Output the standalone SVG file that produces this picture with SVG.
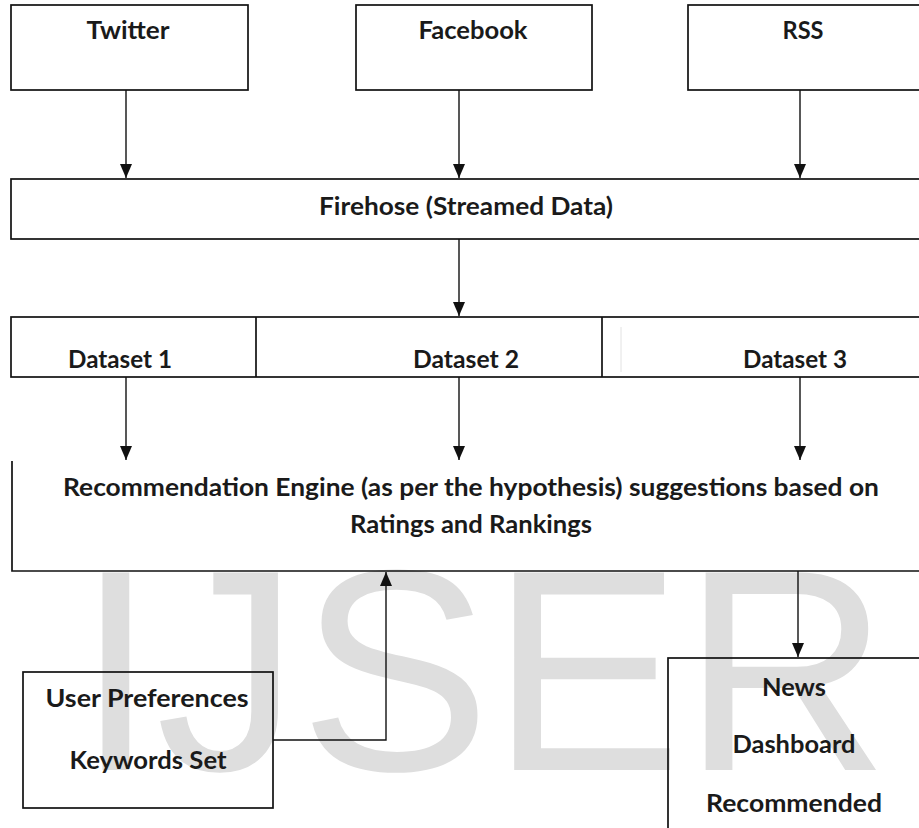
<svg xmlns="http://www.w3.org/2000/svg" width="919" height="828" viewBox="0 0 919 828">
<defs>
<marker id="arr" markerWidth="14" markerHeight="12" refX="14" refY="6" orient="auto" markerUnits="userSpaceOnUse" viewBox="0 0 14 12">
<path d="M0,0 L14,6 L0,12 Z" fill="#111"/>
</marker>
<style>
.box{fill:none;stroke:#111;stroke-width:1.7}
.ln{fill:none;stroke:#111;stroke-width:1.4}
.t{font-family:Lato,"Open Sans","Liberation Sans",sans-serif;font-weight:700;font-size:24px;fill:#1a1a1a;text-anchor:middle}
.wm{font-family:"Liberation Sans",Arial,sans-serif;font-size:287px;fill:#dedede}
</style>
</defs>
<rect width="919" height="828" fill="#fff"/>
<text class="wm" x="76" y="770">IJSER</text>

<g id="connectors">
<line class="ln" x1="126" y1="90" x2="126" y2="178" marker-end="url(#arr)"/>
<line class="ln" x1="459" y1="90" x2="459" y2="178" marker-end="url(#arr)"/>
<line class="ln" x1="800" y1="90" x2="800" y2="178" marker-end="url(#arr)"/>
<line class="ln" x1="459" y1="239" x2="459" y2="316" marker-end="url(#arr)"/>
<line class="ln" x1="126" y1="377" x2="126" y2="460" marker-end="url(#arr)"/>
<line class="ln" x1="459" y1="377" x2="459" y2="460" marker-end="url(#arr)"/>
<line class="ln" x1="800" y1="377" x2="800" y2="460" marker-end="url(#arr)"/>
<path class="ln" d="M273,740 H386 V572" marker-end="url(#arr)"/>
<line class="ln" x1="798" y1="571" x2="798" y2="657" marker-end="url(#arr)"/>
</g>

<g id="twitter">
<rect class="box" x="11" y="5" width="237" height="85"/>
<text class="t" x="128" y="39" textLength="83" lengthAdjust="spacingAndGlyphs">Twitter</text>
</g>
<g id="facebook">
<rect class="box" x="356" y="5" width="236" height="85"/>
<text class="t" x="473" y="39" textLength="109" lengthAdjust="spacingAndGlyphs">Facebook</text>
</g>
<g id="rss">
<rect class="box" x="688" y="5" width="240" height="85"/>
<text class="t" x="803" y="39" textLength="41" lengthAdjust="spacingAndGlyphs">RSS</text>
</g>
<g id="firehose">
<rect class="box" x="11" y="179" width="920" height="60"/>
<text class="t" x="466" y="215" textLength="294" lengthAdjust="spacingAndGlyphs">Firehose (Streamed Data)</text>
</g>
<g id="datasets">
<rect class="box" x="11" y="317" width="920" height="60"/>
<line class="box" x1="256" y1="317" x2="256" y2="377"/>
<line class="box" x1="602" y1="317" x2="602" y2="377"/>
<line x1="621" y1="327" x2="621" y2="372" stroke="#e2e2e2" stroke-width="1"/>
<text class="t" x="120" y="368" textLength="104" lengthAdjust="spacingAndGlyphs">Dataset 1</text>
<text class="t" x="466" y="368" textLength="106" lengthAdjust="spacingAndGlyphs">Dataset 2</text>
<text class="t" x="795" y="368" textLength="104" lengthAdjust="spacingAndGlyphs">Dataset 3</text>
</g>
<g id="engine">
<path class="box" d="M12,461 V571 H919"/>
<text class="t" x="471" y="496" textLength="816" lengthAdjust="spacingAndGlyphs">Recommendation Engine (as per the hypothesis) suggestions based on</text>
<text class="t" x="471" y="533" textLength="242" lengthAdjust="spacingAndGlyphs">Ratings and Rankings</text>
</g>
<g id="user-preferences">
<rect class="box" x="23" y="672" width="250" height="136"/>
<text class="t" x="147" y="707" textLength="203" lengthAdjust="spacingAndGlyphs">User Preferences</text>
<text class="t" x="148" y="769" textLength="157" lengthAdjust="spacingAndGlyphs">Keywords Set</text>
</g>
<g id="news-dashboard">
<rect class="box" x="668" y="658" width="270" height="200"/>
<text class="t" x="794" y="696" textLength="64" lengthAdjust="spacingAndGlyphs">News</text>
<text class="t" x="794" y="753" textLength="123" lengthAdjust="spacingAndGlyphs">Dashboard</text>
<text class="t" x="794" y="812" textLength="176" lengthAdjust="spacingAndGlyphs">Recommended</text>
</g>
</svg>
